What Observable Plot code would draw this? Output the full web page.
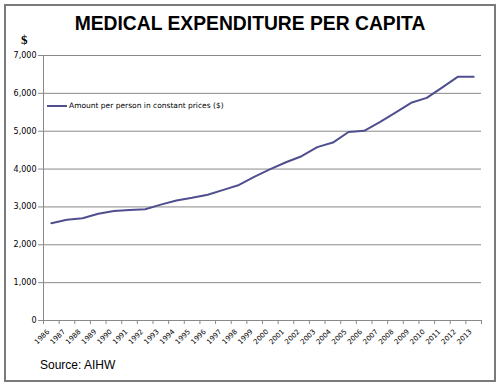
<!DOCTYPE html>
<html>
<head>
<meta charset="utf-8">
<script src="https://cdn.jsdelivr.net/npm/d3@7"></script>
<script src="https://cdn.jsdelivr.net/npm/@observablehq/plot@0.6"></script>
<style>
  html, body { margin: 0; padding: 0; background: #fff; }
  #wrap { position: relative; width: 500px; height: 386px; overflow: hidden; font-family: "Liberation Sans", Arial, sans-serif; }
  #border { position: absolute; left: 4px; top: 4px; width: 488px; height: 374px; border: 2px solid #7a7a7a; }
  #title { position: absolute; left: 0; width: 500px; top: 13px; text-align: center; font-weight: bold; font-size: 19.3px; color: #000; }
  #dollar { position: absolute; left: 21px; top: 32px; font-family: "Liberation Serif", serif; font-weight: bold; font-size: 13px; }
  #source { position: absolute; left: 40px; top: 358px; font-size: 12px; color: #000; }
  #legend { position: absolute; left: 47px; top: 101px; font-size: 7.5px; font-family: "DejaVu Sans", sans-serif; display: flex; align-items: center; }
  #legend .sw { width: 20px; height: 2px; background: #4f4f8f; margin-right: 2px; }
  #chart { position: absolute; left: 0; top: 0; }
</style>
</head>
<body>
<div id="wrap">
  <div id="chart"></div>
  <div id="border"></div>
  <div id="title">MEDICAL EXPENDITURE PER CAPITA</div>
  <div id="dollar">$</div>
  <div id="legend"><span class="sw"></span><span id="legtext"></span></div>
  <div id="source">Source: AIHW</div>
</div>
<script>
const years = [1986, 1987, 1988, 1989, 1990, 1991, 1992, 1993, 1994, 1995, 1996, 1997, 1998, 1999,
               2000, 2001, 2002, 2003, 2004, 2005, 2006, 2007, 2008, 2009, 2010, 2011, 2012, 2013];
const amounts = [2570, 2660, 2700, 2820, 2890, 2920, 2940, 3060, 3170, 3240, 3320, 3450, 3580, 3800,
                 4000, 4180, 4340, 4580, 4700, 4980, 5010, 5240, 5490, 5750, 5880, 6160, 6440, 6440];
const yTicks = [0, 1000, 2000, 3000, 4000, 5000, 6000, 7000];
const seriesName = "Amount per person in constant prices ($)";

document.getElementById("legtext").textContent = seriesName;

const data = years.map((yr, i) => ({year: yr, value: amounts[i]}));
const boundaries = years.concat([years[years.length - 1] + 1]);
const gray = "#8a8a8a";

const chart = Plot.plot({
  width: 500,
  height: 386,
  marginLeft: 43,
  marginRight: 19,
  marginTop: 55,
  marginBottom: 66,
  style: {fontFamily: "'DejaVu Sans', sans-serif", fontSize: "7px", color: "#000", background: "transparent"},
  x: {type: "linear", domain: [years[0], years[years.length - 1] + 1], axis: null},
  y: {domain: [0, 7000], axis: null},
  marks: [
    Plot.gridY(yTicks.filter(d => d > 0), {stroke: gray, strokeOpacity: 1}),
    Plot.ruleY([0], {stroke: gray}),
    Plot.ruleX([years[0]], {stroke: gray}),
    Plot.axisX(boundaries, {tickSize: 4, stroke: gray, tickFormat: () => "", label: null}),
    Plot.axisX(years.map(d => d + 0.5), {tickSize: 0, tickPadding: 8, tickRotate: -45, label: null,
      tickFormat: d => String(Math.floor(d)), fontSize: 7, dx: -3, dy: 2}),
    Plot.axisY(yTicks, {tickSize: 5, stroke: gray, tickPadding: 2, tickFormat: d3.format(","), fontSize: 8, label: null}),
    Plot.line(data, {x: d => d.year + 0.5, y: "value", stroke: "#4f4f8f", strokeWidth: 2})
  ]
});
document.getElementById("chart").appendChild(chart);
</script>
</body>
</html>
